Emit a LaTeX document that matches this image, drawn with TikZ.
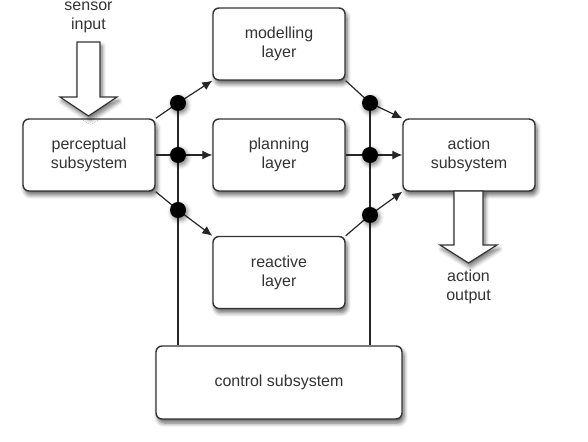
\documentclass[tikz,border=0pt]{standalone}
\usepackage{fontspec}
\setmainfont{Liberation Sans}
\usetikzlibrary{arrows.meta,shadows.blur}
\begin{document}
\begin{tikzpicture}[x=0.5pt,y=-0.5pt,
  font=\fontsize{8}{9.5}\selectfont,
  every node/.style={text=black!80},
  box/.style={draw=black!80,line width=0.7pt,rounded corners=3pt,fill=white,
    minimum width=66pt,minimum height=36pt,align=center,
    blur shadow={shadow xshift=1pt,shadow yshift=-2pt,shadow blur steps=6,shadow opacity=60}},
  dot/.style={circle,fill=black,inner sep=0pt,minimum size=8pt,
    blur shadow={shadow xshift=0.8pt,shadow yshift=-1.2pt,shadow blur steps=4,shadow opacity=50}},
  link/.style={draw=black!85,line width=0.6pt},
  hollow/.style={draw=black!80,line width=0.6pt,fill=white,line join=miter,
    blur shadow={shadow xshift=1pt,shadow yshift=-2pt,shadow blur steps=6,shadow opacity=55}}]
\useasboundingbox (0,0) rectangle (588,442);

% boxes
\node[box] (perc) at (89,155) {perceptual\\subsystem};
\node[box] (model) at (279,44) {modelling\\layer};
\node[box] (plan) at (279,155) {planning\\layer};
\node[box] (react) at (279,272.5) {reactive\\layer};
\node[box] (act) at (469,155) {action\\subsystem};
\node[box,minimum width=123pt,minimum height=36.5pt] (ctrl) at (279,382.5) {control subsystem};

% hollow arrows in and out
\draw[hollow] (77,42) -- (100,42) -- (100,97) -- (117,97) -- (88.5,116) -- (60,97) -- (77,97) -- cycle;
\node[align=center] (sensin) at (88.5,17) {sensor\\input};
\draw[hollow] (454,191) -- (483,191) -- (483,245) -- (497,245) -- (468.5,263) -- (440,245) -- (454,245) -- cycle;
\node[align=center] (actout) at (468.5,287) {action\\output};

% junction points
\coordinate (dl1) at (178,103);
\coordinate (dl2) at (178,155);
\coordinate (dl3) at (178,210);
\coordinate (dr1) at (370,103);
\coordinate (dr2) at (370,155);
\coordinate (dr3) at (370,215);

% control lines
\draw[link] (dl1) -- (dl1 |- ctrl.north);
\draw[link] (dr1) -- (dr1 |- ctrl.north);

% layer links
\draw[link] (perc.north east) -- (dl1);
\draw[link,-{Latex[length=5pt,width=4.5pt]}] (dl1) -- (model.south west);
\draw[link] (perc.east) -- (dl2);
\draw[link,-{Latex[length=5pt,width=4.5pt]}] (dl2) -- (plan.west);
\draw[link] (perc.south east) -- (dl3);
\draw[link,-{Latex[length=5pt,width=4.5pt]}] (dl3) -- (react.north west);
\draw[link] (model.south east) -- (dr1);
\draw[link,-{Latex[length=5pt,width=4.5pt]}] (dr1) -- (act.north west);
\draw[link] (plan.east) -- (dr2);
\draw[link,-{Latex[length=5pt,width=4.5pt]}] (dr2) -- (act.west);
\draw[link] (react.north east) -- (dr3);
\draw[link,-{Latex[length=5pt,width=4.5pt]}] (dr3) -- (act.south west);

% dots
\foreach \p in {dl1,dl2,dl3,dr1,dr2,dr3}
  \node[dot] (n\p) at (\p) {};
\end{tikzpicture}
\end{document}
